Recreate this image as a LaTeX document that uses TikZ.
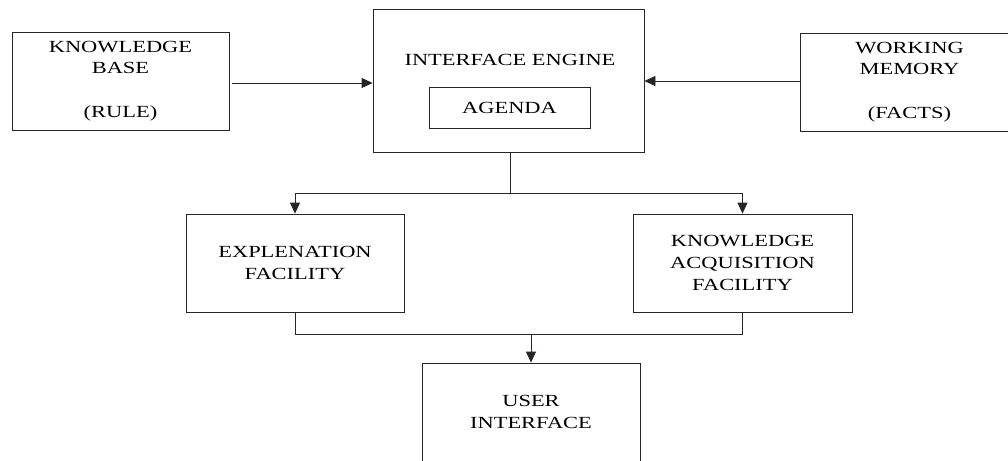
\documentclass[tikz,border=0pt]{standalone}
\usepackage{fontspec}
\setmainfont{Liberation Serif}[FakeStretch=1.32]
\usetikzlibrary{arrows.meta}
\tikzset{
  box/.style={draw=black!85, line width=0.8pt, inner sep=0pt, align=center, anchor=center},
  lbl/.style={inner sep=0pt, anchor=base, align=center},
  conn/.style={draw=black!85, line width=0.8pt},
  arr/.style={conn, -{Triangle[length=11pt,width=10pt]}},
}
\begin{document}
\begin{tikzpicture}[x=1pt,y=-1pt,font=\fontsize{17}{21.7}\selectfont]
\useasboundingbox (0,0) rectangle (1008,460);
\clip (0,0) rectangle (1008,460);
% boxes
\node[box, minimum width=217pt, minimum height=98pt] (kb) at (120.5,81) {KNOWLEDGE\\BASE\\[21.7pt](RULE)};
\node[box, minimum width=271pt, minimum height=143pt] (ie) at (508.5,80.5) {};
\node[lbl] (iet) at (510,65) {INTERFACE ENGINE};
\node[box, minimum width=161pt, minimum height=41pt] (ag) at (509.5,107.5) {};
\node[lbl] (agt) at (509.5,113) {AGENDA};
\node[box, minimum width=219pt, minimum height=98pt] (wm) at (909.5,82) {WORKING\\MEMORY\\[21.7pt](FACTS)};
\node[box, minimum width=218pt, minimum height=98pt] (ef) at (295,263) {EXPLENATION\\FACILITY};
\node[box, minimum width=219pt, minimum height=98pt] (kaf) at (742.5,263) {KNOWLEDGE\\ACQUISITION\\FACILITY};
\node[box, minimum width=218pt, minimum height=98pt] (ui) at (531,412) {USER\\INTERFACE};
% junction coordinates
\coordinate (j1) at (510,193);
\coordinate (j2) at (531,334);
% connectors
\draw[arr] (kb.east |- 0,83) ++(3,0) -- (ie.west |- 0,83);
\draw[arr] (wm.west |- 0,81) -- (ie.east |- 0,81);
\draw[conn] (ie.south -| j1) -- (j1);
\draw[arr] (j1) -| (ef.north);
\draw[arr] (j1) -| (kaf.north);
\draw[conn] (ef.south) |- (j2);
\draw[conn] (kaf.south) |- (j2);
\draw[arr] (j2) -- (ui.north);
\end{tikzpicture}
\end{document}
